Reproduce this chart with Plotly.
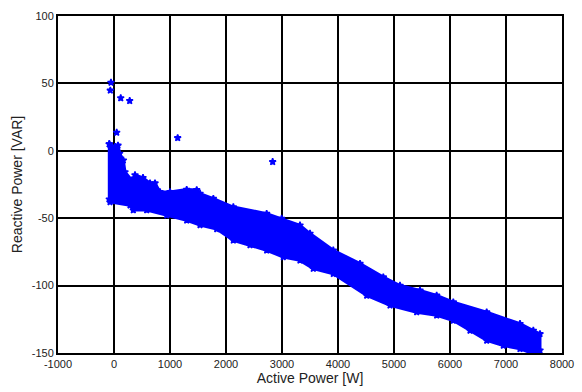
import plotly.graph_objects as go

# Upper edge of the dense point cloud (left -> right)
upper_p = [-84, 20, 71, 100, 167, 196, 316, 375, 518, 643, 732, 821, 1000, 1298, 1477, 1536, 1774,
           2131, 2726, 2994, 3321, 3500, 3916, 4393, 4809, 5107, 5464, 5762, 6059, 6655, 7250,
           7488, 7607, 7607, 7548]
upper_q = [5, 3, 4, -2, -7, -15.7, -21.8, -18, -20, -24, -24, -30.5, -30.5, -28.8, -29, -31.7, -35.5,
           -41.7, -46.6, -50.3, -55.3, -61.4, -73.8, -83.7, -93.7, -99.9, -103.6, -107.3, -112.3,
           -119.7, -128.3, -133.3, -135.8, -148, -151.5]
# Lower edge of the cloud (right -> left)
lower_p = [7250, 6952, 6655, 6357, 6059, 5762, 5405, 4929, 4512, 3916, 3559, 3321, 3023, 2726,
           2429, 2131, 1834, 1536, 1298, 941, 584, 345, 286, -71, -84]
lower_q = [-146.9, -144.4, -140.7, -133.3, -125.9, -122.1, -119.7, -114.7, -107.3, -91.2, -87.4,
           -81.3, -78.8, -73.8, -70, -66.4, -58, -55, -51.6, -47.8, -44, -44, -40.4, -38, -36]
# Isolated points
out_p = [-54, -66, 120, 280, 48, 1137, 2833]
out_q = [50.7, 44.8, 39.1, 37.1, 13.6, 9.6, -8.2]

x_ticks = [-1000, 0, 1000, 2000, 3000, 4000, 5000, 6000, 7000, 8000]
y_ticks = [-150, -100, -50, 0, 50, 100]

BLUE = "rgb(0,0,255)"
cloud_x = upper_p + lower_p
cloud_y = upper_q + lower_q
star = dict(symbol="star", size=5, color=BLUE, line=dict(color=BLUE, width=1.5))

fig = go.Figure()
fig.add_trace(go.Scatter(x=cloud_x + [cloud_x[0]], y=cloud_y + [cloud_y[0]], mode="lines+markers",
                         fill="toself", fillcolor=BLUE, line=dict(color=BLUE, width=3),
                         marker=star, hoverinfo="skip", showlegend=False))
fig.add_trace(go.Scatter(x=out_p, y=out_q, mode="markers", marker=star, showlegend=False))

axis_common = dict(showline=True, linecolor="black", linewidth=2, mirror=True,
                   showgrid=True, gridcolor="black", gridwidth=2, zeroline=False,
                   ticks="inside", ticklen=4, tickcolor="black", automargin=False,
                   tickfont=dict(family="Liberation Sans, Arial", size=11, color="#222"))
fig.update_xaxes(range=[-1000, 8000], tickvals=x_ticks, ticktext=[str(v) for v in x_ticks],
                 title=dict(text="Active Power [W]", standoff=3,
                            font=dict(family="Liberation Sans, Arial", size=14, color="#222")),
                 **axis_common)
fig.update_yaxes(range=[-150, 100], tickvals=y_ticks, ticktext=[str(v) for v in y_ticks],
                 title=dict(text="Reactive Power [VAR]", standoff=6,
                            font=dict(family="Liberation Sans, Arial", size=14, color="#222")),
                 **axis_common)
fig.update_layout(width=582, height=392, margin=dict(l=58, r=20, t=16, b=39),
                  plot_bgcolor="white", paper_bgcolor="white")
fig.write_html("out.html")
